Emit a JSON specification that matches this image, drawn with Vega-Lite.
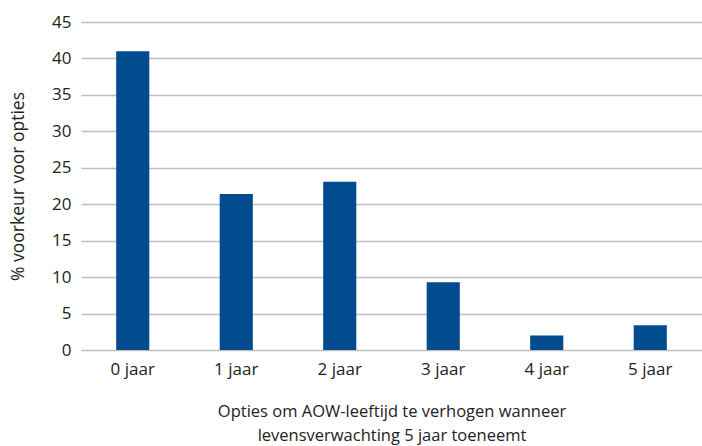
{
  "$schema": "https://vega.github.io/schema/vega-lite/v6.json",
  "width": 621,
  "height": 328,
  "autosize": "none",
  "padding": {"left": 81, "top": 22, "right": 0, "bottom": 96},
  "background": "white",
  "config": {
    "view": {"stroke": null},
    "font": "Open Sans"
  },
  "data": {
    "values": [
      {"optie": "0 jaar", "pct": 41.0},
      {"optie": "1 jaar", "pct": 21.4},
      {"optie": "2 jaar", "pct": 23.1},
      {"optie": "3 jaar", "pct": 9.3},
      {"optie": "4 jaar", "pct": 2.0},
      {"optie": "5 jaar", "pct": 3.4}
    ]
  },
  "mark": {"type": "bar", "color": "#004C8F"},
  "encoding": {
    "x": {
      "field": "optie",
      "type": "nominal",
      "sort": null,
      "scale": {"paddingInner": 0.68, "paddingOuter": 0.34},
      "axis": {
        "title": ["Opties om AOW-leeftijd te verhogen wanneer", "levensverwachting 5 jaar toeneemt"],
        "titleFontSize": 16.5,
        "titleFontWeight": "normal",
        "titleColor": "#222222",
        "titlePadding": 26,
        "titleLineHeight": 24,
        "labelAngle": 0,
        "labelFontSize": 17,
        "labelColor": "#222222",
        "labelPadding": 11,
        "ticks": false,
        "domain": false
      }
    },
    "y": {
      "field": "pct",
      "type": "quantitative",
      "scale": {"domain": [0, 45], "nice": false},
      "axis": {
        "title": "% voorkeur voor opties",
        "titleFontSize": 17.5,
        "titleFontWeight": "normal",
        "titleColor": "#222222",
        "titlePadding": 24,
        "values": [0, 5, 10, 15, 20, 25, 30, 35, 40, 45],
        "labelFontSize": 17,
        "labelColor": "#222222",
        "labelPadding": 10,
        "ticks": false,
        "domain": false,
        "grid": true,
        "gridColor": "#BFBFBF",
        "gridWidth": 1.3
      }
    }
  }
}
